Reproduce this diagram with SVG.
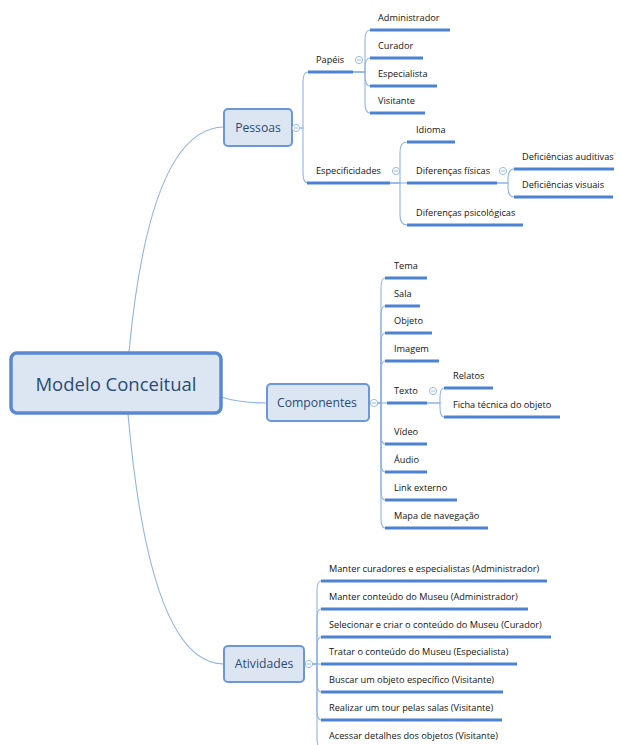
<svg xmlns="http://www.w3.org/2000/svg" width="621" height="745" viewBox="0 0 621 745">
<style>
.bg{fill:#ffffff}
.root rect{fill:#dce6f2;stroke:#5a88d2;stroke-width:3.5}
.main rect{fill:#dce6f2;stroke:#6b97d8;stroke-width:2}
.root text{font-family:"Open Sans","Noto Sans",sans-serif;font-size:18.5px;fill:#2b4a78;text-anchor:middle}
.main text{font-family:"Open Sans","Noto Sans",sans-serif;font-size:12.2px;fill:#2b4a78;text-anchor:middle}
.leaf text{font-family:"Open Sans","Noto Sans",sans-serif;font-size:9.2px;fill:#141414}
.ul{stroke:#4d82d3;stroke-width:3;fill:none}
.conn path{fill:none;stroke:#8fb4e6;stroke-width:1.1}
</style>
<defs>
<g id="minus"><circle cx="0" cy="0" r="3.6" fill="#ffffff" stroke="#9dbbe6" stroke-width="1"/><line x1="-2" y1="0" x2="2" y2="0" stroke="#9dbbe6" stroke-width="1"/></g>
</defs>
<rect class="bg" x="0" y="0" width="621" height="745"/>

<g id="connectors" class="conn">
<path d="M129,352 Q150,128 224,127"/>
<path d="M221,397 Q240,403 267,403"/>
<path d="M128,414 Q150,664 224,664"/>
<path d="M292,128 H303 V82 Q303,72 308,72"/>
<path d="M292,128 H303 V173 Q303,183 308,183"/>
<path d="M353,72 H365 V40 Q365,30 370,30"/>
<path d="M353,72 H365 V68 Q365,58 370,58"/>
<path d="M353,72 H365 V76 Q365,86 370,86"/>
<path d="M353,72 H365 V103 Q365,113 370,113"/>
<path d="M390,183 H400 V152 Q400,142 407,142"/>
<path d="M390,183 H407"/>
<path d="M390,183 H400 V215 Q400,225 407,225"/>
<path d="M497,183 H508 V179 Q508,169 514,169"/>
<path d="M497,183 H508 V187 Q508,197 514,197"/>
<path d="M369,403 H381 V288 Q381,278 385,278"/>
<path d="M369,403 H381 V316 Q381,306 385,306"/>
<path d="M369,403 H381 V343 Q381,333 385,333"/>
<path d="M369,403 H381 V371 Q381,361 385,361"/>
<path d="M369,403 H387"/>
<path d="M369,403 H381 V434 Q381,444 385,444"/>
<path d="M369,403 H381 V462 Q381,472 385,472"/>
<path d="M369,403 H381 V490 Q381,500 385,500"/>
<path d="M369,403 H381 V518 Q381,528 385,528"/>
<path d="M427,403 H440 V398 Q440,388 444,388"/>
<path d="M427,403 H440 V407 Q440,417 444,417"/>
<path d="M304,664 H317 V591 Q317,581 321,581"/>
<path d="M304,664 H317 V619 Q317,609 321,609"/>
<path d="M304,664 H317 V647 Q317,637 321,637"/>
<path d="M304,664 H321"/>
<path d="M304,664 H317 V682 Q317,692 321,692"/>
<path d="M304,664 H317 V710 Q317,720 321,720"/>
<path d="M304,664 H317 V738 Q317,748 321,748"/>
</g>

<g id="root" class="root">
<rect x="11" y="353" width="210" height="60" rx="6"/>
<text x="116" y="391">Modelo Conceitual</text>
</g>

<g id="pessoas" class="main">
<rect x="224" y="109" width="68" height="37" rx="4"/>
<text x="258" y="132.4">Pessoas</text>
</g>
<g id="componentes" class="main">
<rect x="267" y="384" width="102" height="37" rx="4"/>
<text x="317" y="407.4">Componentes</text>
</g>
<g id="atividades" class="main">
<rect x="224" y="646" width="80" height="36" rx="4"/>
<text x="264" y="668.4">Atividades</text>
</g>

<g id="papeis" class="leaf"><line class="ul" x1="308" y1="72" x2="353" y2="72"/><text x="316" y="63">Papéis</text></g>
<g id="administrador" class="leaf"><line class="ul" x1="370" y1="30" x2="450" y2="30"/><text x="378" y="21">Administrador</text></g>
<g id="curador" class="leaf"><line class="ul" x1="370" y1="58" x2="423" y2="58"/><text x="378" y="49">Curador</text></g>
<g id="especialista" class="leaf"><line class="ul" x1="370" y1="86" x2="437" y2="86"/><text x="378" y="77">Especialista</text></g>
<g id="visitante" class="leaf"><line class="ul" x1="370" y1="113" x2="425" y2="113"/><text x="378" y="104">Visitante</text></g>
<g id="especificidades" class="leaf"><line class="ul" x1="307" y1="183" x2="390" y2="183"/><text x="316" y="174">Especificidades</text></g>
<g id="idioma" class="leaf"><line class="ul" x1="407" y1="142" x2="455" y2="142"/><text x="416" y="133">Idioma</text></g>
<g id="diferencas-fisicas" class="leaf"><line class="ul" x1="407" y1="183" x2="497" y2="183"/><text x="416" y="174">Diferenças físicas</text></g>
<g id="diferencas-psicologicas" class="leaf"><line class="ul" x1="407" y1="225" x2="523" y2="225"/><text x="416" y="216">Diferenças psicológicas</text></g>
<g id="deficiencias-auditivas" class="leaf"><line class="ul" x1="514" y1="169" x2="614" y2="169"/><text x="522" y="160">Deficiências auditivas</text></g>
<g id="deficiencias-visuais" class="leaf"><line class="ul" x1="514" y1="197" x2="613" y2="197"/><text x="522" y="188">Deficiências visuais</text></g>

<g id="tema" class="leaf"><line class="ul" x1="385" y1="278" x2="427" y2="278"/><text x="394" y="269">Tema</text></g>
<g id="sala" class="leaf"><line class="ul" x1="385" y1="306" x2="420" y2="306"/><text x="394" y="297">Sala</text></g>
<g id="objeto" class="leaf"><line class="ul" x1="385" y1="333" x2="432" y2="333"/><text x="394" y="324">Objeto</text></g>
<g id="imagem" class="leaf"><line class="ul" x1="385" y1="361" x2="439" y2="361"/><text x="394" y="352">Imagem</text></g>
<g id="texto" class="leaf"><line class="ul" x1="387" y1="403" x2="427" y2="403"/><text x="394" y="394">Texto</text></g>
<g id="relatos" class="leaf"><line class="ul" x1="444" y1="388" x2="493" y2="388"/><text x="453" y="379">Relatos</text></g>
<g id="ficha-tecnica" class="leaf"><line class="ul" x1="444" y1="417" x2="560" y2="417"/><text x="453" y="408">Ficha técnica do objeto</text></g>
<g id="video" class="leaf"><line class="ul" x1="385" y1="444" x2="427" y2="444"/><text x="394" y="435">Vídeo</text></g>
<g id="audio" class="leaf"><line class="ul" x1="385" y1="472" x2="427" y2="472"/><text x="394" y="463">Áudio</text></g>
<g id="link-externo" class="leaf"><line class="ul" x1="385" y1="500" x2="457" y2="500"/><text x="394" y="491">Link externo</text></g>
<g id="mapa-navegacao" class="leaf"><line class="ul" x1="385" y1="528" x2="488" y2="528"/><text x="394" y="519">Mapa de navegação</text></g>

<g id="atv1" class="leaf"><line class="ul" x1="321" y1="581" x2="547" y2="581"/><text x="329" y="572">Manter curadores e especialistas (Administrador)</text></g>
<g id="atv2" class="leaf"><line class="ul" x1="321" y1="609" x2="528" y2="609"/><text x="329" y="600">Manter conteúdo do Museu (Administrador)</text></g>
<g id="atv3" class="leaf"><line class="ul" x1="321" y1="637" x2="551" y2="637"/><text x="329" y="628">Selecionar e criar o conteúdo do Museu (Curador)</text></g>
<g id="atv4" class="leaf"><line class="ul" x1="321" y1="664" x2="517" y2="664"/><text x="329" y="655">Tratar o conteúdo do Museu (Especialista)</text></g>
<g id="atv5" class="leaf"><line class="ul" x1="321" y1="692" x2="503" y2="692"/><text x="329" y="683">Buscar um objeto específico (Visitante)</text></g>
<g id="atv6" class="leaf"><line class="ul" x1="321" y1="720" x2="502" y2="720"/><text x="329" y="711">Realizar um tour pelas salas (Visitante)</text></g>
<g id="atv7" class="leaf"><line class="ul" x1="321" y1="748" x2="503" y2="748"/><text x="329" y="739">Acessar detalhes dos objetos (Visitante)</text></g>

<g id="toggles">
<use href="#minus" x="296" y="128"/>
<use href="#minus" x="359" y="60"/>
<use href="#minus" x="396" y="171"/>
<use href="#minus" x="503" y="171"/>
<use href="#minus" x="374" y="403"/>
<use href="#minus" x="433" y="391"/>
<use href="#minus" x="309" y="664"/>
</g>
</svg>
